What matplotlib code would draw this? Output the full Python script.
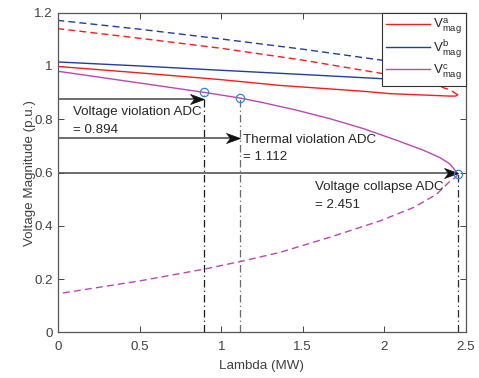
import matplotlib
matplotlib.use("Agg")
import matplotlib.pyplot as plt
from matplotlib.path import Path

plt.rcParams['font.family'] = ['Liberation Sans', 'DejaVu Sans']
plt.rcParams['mathtext.fontset'] = 'custom'
plt.rcParams['mathtext.rm'] = 'Liberation Sans'

# ---- data ----
red_solid_x = [0, 0.5, 0.992, 1.36, 1.871, 2.035, 2.28, 2.40, 2.44, 2.451]
red_solid_y = [0.998, 0.974, 0.949, 0.927, 0.905, 0.896, 0.890, 0.887, 0.887, 0.892]
red_dash_x = [2.451, 2.42, 2.40, 2.32, 2.26, 1.994, 1.5, 0.992, 0.5, 0]
red_dash_y = [0.892, 0.904, 0.911, 0.927, 0.937, 0.971, 1.022, 1.067, 1.104, 1.140]

blue_solid_x = [0, 0.5, 0.992, 1.5, 1.994, 2.3, 2.44, 2.451]
blue_solid_y = [1.015, 1.000, 0.984, 0.968, 0.952, 0.944, 0.942, 0.946]
blue_dash_x = [2.451, 2.42, 2.35, 2.2, 1.994, 1.5, 0.992, 0.5, 0]
blue_dash_y = [0.946, 0.965, 0.985, 1.002, 1.021, 1.063, 1.102, 1.138, 1.171]

mag_solid_x = [0, 0.5, 0.894, 1.112, 1.258, 1.462, 1.667, 1.871, 2.076, 2.239,
               2.342, 2.403, 2.434, 2.451]
mag_solid_y = [0.980, 0.936, 0.901, 0.880, 0.862, 0.834, 0.802, 0.765, 0.721, 0.684,
               0.656, 0.632, 0.609, 0.595]
mag_dash_x = [2.451, 2.44, 2.403, 2.321, 2.178, 1.973, 1.667, 1.36, 1.112, 0.894, 0.5, 0]
mag_dash_y = [0.595, 0.583, 0.567, 0.518, 0.468, 0.418, 0.357, 0.300, 0.265, 0.237, 0.193, 0.145]

legend_labels = [r'$\mathregular{V^{a}_{mag}}$', r'$\mathregular{V^{b}_{mag}}$',
                 r'$\mathregular{V^{c}_{mag}}$']

adc_x = [0.894, 1.112, 2.451]
adc_y = [0.901, 0.880, 0.595]
arrow_y = [0.875, 0.731, 0.598]
adc_labels = ["Voltage violation ADC\n= 0.894",
              "Thermal violation ADC\n= 1.112",
              "Voltage collapse ADC\n= 2.451"]
label_x = [0.088, 1.135, 1.575]
label_baseline = [0.815, 0.712, 0.534]
vline_colors = ['#1a1a1a', '#6a6a6a', '#2a2a2a']

xticks = [0, 0.5, 1, 1.5, 2, 2.5]
xticklabels = ['0', '0.5', '1', '1.5', '2', '2.5']
yticks = [0, 0.2, 0.4, 0.6, 0.8, 1, 1.2]
yticklabels = ['0', '0.2', '0.4', '0.6', '0.8', '1', '1.2']

RED = '#ff1a1a'
BLUE = '#1f3f9f'
MAG = '#bf45b5'
FS = 9.6
TXT = '#262626'

fig = plt.figure(figsize=(4.79, 3.78), dpi=100)
ax = fig.add_axes([0.1217, 0.1209, 0.8505, 0.8455])

l1, = ax.plot(red_solid_x, red_solid_y, color=RED, lw=1.0)
ax.plot(red_dash_x, red_dash_y, color=RED, lw=1.0, ls=(0, (5, 3)))
l2, = ax.plot(blue_solid_x, blue_solid_y, color=BLUE, lw=1.0)
ax.plot(blue_dash_x, blue_dash_y, color=BLUE, lw=1.0, ls=(0, (5, 3)))
l3, = ax.plot(mag_solid_x, mag_solid_y, color=MAG, lw=1.0)
ax.plot(mag_dash_x, mag_dash_y, color=MAG, lw=1.0, ls=(0, (5, 3)))

# vertical dash-dot lines
for x, y, c in zip(adc_x, adc_y, vline_colors):
    ax.plot([x, x], [0, y], color=c, lw=0.9, ls=(0, (6, 2.5, 1, 2.5)))

# arrows
head = Path([(0, 0), (-1, 0.36), (-0.72, 0), (-1, -0.36), (0, 0)],
            [Path.MOVETO, Path.LINETO, Path.LINETO, Path.LINETO, Path.CLOSEPOLY])
for x, y in zip(adc_x, arrow_y):
    ax.plot([0, x - 0.03], [y, y], color='#555555', lw=1.2)
    ax.plot([x], [y], marker=head, markersize=20, color='#111111', mec='#111111',
            mew=0.5, ls='none')

# circles
ax.plot(adc_x, adc_y, ls='none', marker='o', ms=6, mfc='none', mec='#2a8ad8', mew=0.9)

# texts
for x, yb, s in zip(label_x, label_baseline, adc_labels):
    lines = s.split('\n')
    for i, ln in enumerate(lines):
        ax.text(x, yb - i * 0.0665, ln, fontsize=FS, color=TXT, va='baseline', ha='left')

ax.set_xlim(0, 2.5)
ax.set_ylim(0, 1.2)
ax.set_xticks(xticks)
ax.set_xticklabels(xticklabels)
ax.set_yticks(yticks)
ax.set_yticklabels(yticklabels)
ax.tick_params(direction='in', top=True, right=True, length=4, width=0.7,
               color='#444444', labelsize=FS, labelcolor='#404040')
ax.tick_params(axis='x', pad=6.5)
ax.tick_params(axis='y', pad=4)
for sp in ax.spines.values():
    sp.set_color('#555555')
    sp.set_linewidth(0.9)

ax.set_xlabel('Lambda (MW)', fontsize=FS, color='#404040', labelpad=4.5)
ax.set_ylabel('Voltage Magnitude (p.u.)', fontsize=FS, color='#404040', labelpad=-1)

leg = ax.legend([l1, l2, l3], legend_labels, loc='upper right', fontsize=FS,
                borderaxespad=0, fancybox=False, framealpha=1, edgecolor='#333333',
                handlelength=3.3, handletextpad=0.2, labelspacing=0.15,
                borderpad=0.3)
leg.get_frame().set_linewidth(0.8)
for t in leg.get_texts():
    t.set_color(TXT)

fig.savefig('out.png', dpi=100)
